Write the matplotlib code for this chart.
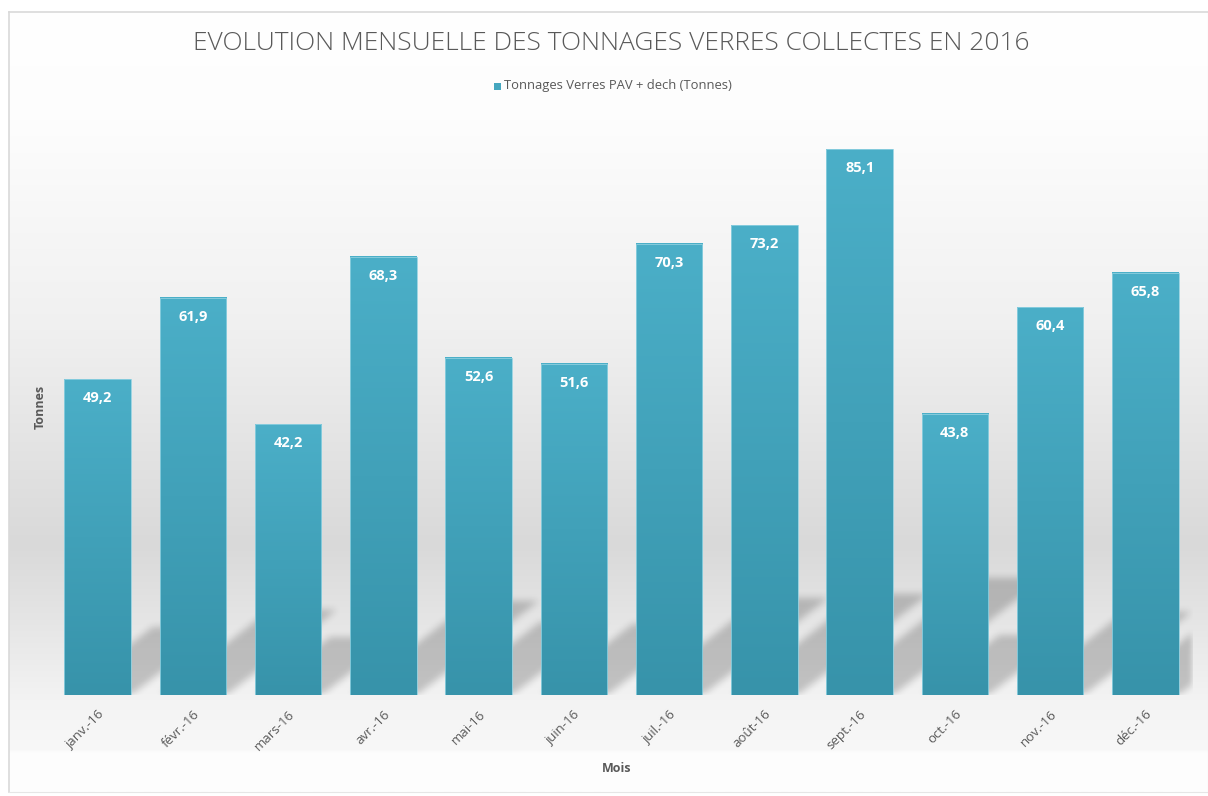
import matplotlib
matplotlib.use('Agg')
import matplotlib.pyplot as plt
import numpy as np
from matplotlib.colors import LinearSegmentedColormap

# ------------------------------------------------------------------
# Data
# ------------------------------------------------------------------
mois = ['janv.-16', 'févr.-16', 'mars-16', 'avr.-16', 'mai-16', 'juin-16',
        'juil.-16', 'août-16', 'sept.-16', 'oct.-16', 'nov.-16', 'déc.-16']
tonnes = [49.2, 61.9, 42.2, 68.3, 52.6, 51.6, 70.3, 73.2, 85.1, 43.8, 60.4, 65.8]

TITLE = 'EVOLUTION MENSUELLE DES TONNAGES VERRES COLLECTES EN 2016'
SERIE = 'Tonnages Verres PAV + dech (Tonnes)'

# ------------------------------------------------------------------
# Style
# ------------------------------------------------------------------
C_TEXT = '#595959'
C_BAR_TOP = '#4bafc8'
C_BAR_BOT = '#3793aa'
C_BAR_EDGE = '#8fd0e0'
FONT = ['Open Sans', 'DejaVu Sans']
plt.rcParams['font.family'] = FONT

W, H = 1208, 796
fig = plt.figure(figsize=(W / 100, H / 100), dpi=100)
fig.patch.set_facecolor('white')

# background: vertical grey gradient over the chart area
bg = fig.add_axes([9 / W, (H - 792) / H, (W - 9) / W, 780 / H], zorder=-2)
bg.set_xlim(0, 1)
bg.set_ylim(792, 12)
ys = np.arange(12, 793)
stops_y = [12, 120, 330, 545, 620, 700, 750, 753, 792]
stops_v = [255, 253, 240, 217, 229, 243, 248, 253, 254]
grey = np.interp(ys, stops_y, stops_v) / 255.0
img = np.repeat(grey[:, None], 2, axis=1)
img = np.dstack([img, img, img])
bg.imshow(img, extent=(0, 1, 792, 12), aspect='auto', interpolation='bilinear')
for side in ['top', 'left']:
    bg.spines[side].set_color('#d9d9d9')
    bg.spines[side].set_linewidth(1.2)
for side in ['bottom', 'right']:
    bg.spines[side].set_color('#e6e6e6')
bg.set_xticks([])
bg.set_yticks([])

# main plot area
ax_l, ax_r, ax_b = 50, 1193, 695
ymax = 90
px_per_t = (695 - 149) / 85.1
ax_h = ymax * px_per_t
ax = fig.add_axes([ax_l / W, (H - ax_b) / H, (ax_r - ax_l) / W, ax_h / H])
ax.patch.set_alpha(0)
x = np.arange(len(mois))
ax.set_xlim(-0.5, len(mois) - 0.5)
ax.set_ylim(0, ymax)
for s in ax.spines.values():
    s.set_visible(False)
ax.set_yticks([])
ax.set_xticks(x)
ax.set_xticklabels(mois, rotation=45, ha='right', rotation_mode='anchor',
                   fontsize=9.5, color=C_TEXT)
ax.tick_params(axis='x', length=0, pad=9)

bar_w = 0.70

# perspective shadow behind the bars (blurred parallelograms)
nx, ny = int(ax_r - ax_l), int(round(ax_h))
px_cat = (ax_r - ax_l) / len(mois)
gx = np.arange(nx)[None, :] + 0.5
gy = np.arange(ny)[:, None] + 0.5
mask = np.zeros((ny, nx))
for i, v in enumerate(tonnes):
    left = (i + 0.5 - bar_w / 2) * px_cat
    right = (i + 0.5 + bar_w / 2) * px_cat
    h = 0.215 * v * px_per_t
    shift = 1.3 * gy
    inside = (gy <= h) & (gx >= left + shift) & (gx <= right + shift)
    mask = np.maximum(mask, inside.astype(float))


def box_blur(a, r):
    k = np.ones(2 * r + 1) / (2 * r + 1)
    a = np.apply_along_axis(lambda m: np.convolve(m, k, mode='same'), 0, a)
    a = np.apply_along_axis(lambda m: np.convolve(m, k, mode='same'), 1, a)
    return a


for _ in range(3):
    mask = box_blur(mask, 3)
shadow = np.zeros((ny, nx, 4))
shadow[..., 3] = 0.2 * mask
ax.imshow(shadow, extent=(-0.5, len(mois) - 0.5, 0, ymax), origin='lower',
          aspect='auto', zorder=1, interpolation='bilinear')

# bars with vertical gradient
bars = ax.bar(x, tonnes, width=bar_w, color='none', edgecolor=C_BAR_EDGE,
              linewidth=0.6, zorder=3)
cmap = LinearSegmentedColormap.from_list('bar', [C_BAR_BOT, C_BAR_TOP])
grad = np.linspace(0, 1, 256)[:, None]
for b in bars:
    bx, by = b.get_x(), b.get_y()
    bw, bh = b.get_width(), b.get_height()
    ax.imshow(grad, cmap=cmap, origin='lower', aspect='auto',
              extent=(bx, bx + bw, by, by + bh), zorder=2,
              vmin=0, vmax=1)
    ax.annotate(f'{bh:.1f}'.replace('.', ','), (bx + bw / 2, bh),
                xytext=(0, -19), textcoords='offset pixels',
                ha='center', va='center', color='white', fontsize=10.5,
                fontweight='bold', zorder=4)
ax.set_xlim(-0.5, len(mois) - 0.5)
ax.set_ylim(0, ymax)

# titles and labels
fig.text(611 / W, 1 - 43 / H, TITLE, ha='center', va='center',
         fontsize=19, color=C_TEXT, fontweight='light')
fig.patches.append(plt.Rectangle((494 / W, 1 - 90 / H), 7 / W, 7 / H,
                                 transform=fig.transFigure, facecolor='#45a7bf',
                                 edgecolor='none'))
fig.text(504 / W, 1 - 86 / H, SERIE, ha='left', va='center',
         fontsize=9.4, color=C_TEXT)
fig.text(617 / W, 1 - 768 / H, 'Mois', ha='center', va='center',
         fontsize=9, color=C_TEXT, fontweight='bold')
fig.text(40 / W, 1 - 407 / H, 'Tonnes', ha='center', va='center',
         rotation=90, fontsize=9, color=C_TEXT, fontweight='bold')

fig.savefig('out.png', dpi=100)
